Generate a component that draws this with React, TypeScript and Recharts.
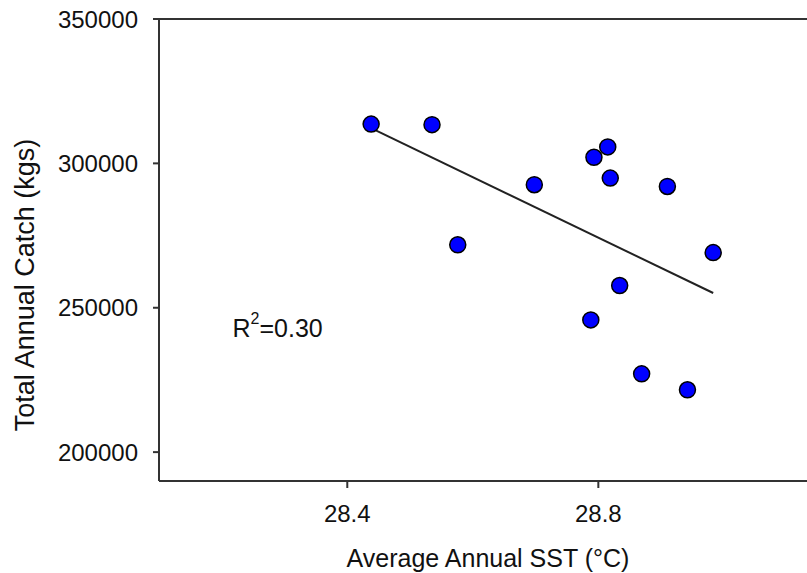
import React from "react";
import { ScatterChart, Scatter, XAxis, YAxis, ReferenceLine, ReferenceDot, Label } from "recharts";

// average annual SST (°C) vs total annual catch (kgs)
const sst = [28.438, 28.535, 28.576, 28.698, 28.793, 28.815, 28.819, 28.91, 28.983, 28.834, 28.788, 28.869, 28.942];
const catchKgs = [313600, 313400, 271800, 292600, 302100, 305700, 294900, 292000, 269100, 257700, 245800, 227100, 221600];

// fitted line end points
const fitSst = [28.438, 28.983];
const fitCatch = [312200, 255100];

const xTicks = [28.4, 28.8];
const yTicks = [200000, 250000, 300000, 350000];
const rSquared = "0.30";

const points = sst.map((x, i) => ({ x, y: catchKgs[i] }));
const fit = fitSst.map((x, i) => ({ x, y: fitCatch[i] }));

const FONT = '"Liberation Sans", Arial, sans-serif';
const INK = "#111";
const AXIS = "#333";

const Dot = (p: any) => <circle cx={p.cx} cy={p.cy} r={8} fill="#0000ff" stroke="#000" strokeWidth={1.5} />;
const NoDot = () => <g />;

export default function App() {
  return (
    <div style={{ position: "fixed", left: 0, top: 0, width: 807, height: 573, overflow: "hidden", background: "#fff" }}>
      <ScatterChart width={830} height={573} margin={{ top: 19, right: 12, bottom: 32, left: 59 }}>
        <XAxis
          type="number"
          dataKey="x"
          domain={[28.1, 29.15]}
          ticks={xTicks}
          tickFormatter={(v: number) => v.toFixed(1)}
          height={60}
          tickSize={7}
          tickMargin={17}
          axisLine={{ stroke: AXIS, strokeWidth: 2 }}
          tickLine={{ stroke: AXIS, strokeWidth: 2 }}
          tick={{ fill: INK, fontSize: 24, fontFamily: FONT }}
        >
          <Label
            content={() => (
              <text x={488} y={567} textAnchor="middle" fill={INK} fontSize={25} fontFamily={FONT}>
                Average Annual SST (°C)
              </text>
            )}
          />
        </XAxis>
        <YAxis
          type="number"
          dataKey="y"
          domain={[190000, 350000]}
          ticks={yTicks}
          width={100}
          tickSize={6}
          tickMargin={15}
          axisLine={{ stroke: AXIS, strokeWidth: 2 }}
          tickLine={{ stroke: AXIS, strokeWidth: 2 }}
          tick={{ fill: INK, fontSize: 24, fontFamily: FONT }}
        >
          <Label
            content={() => (
              <text
                x={25}
                y={285}
                transform="rotate(-90 25 285)"
                textAnchor="middle"
                dominantBaseline="central"
                fill={INK}
                fontSize={27}
                fontFamily={FONT}
              >
                Total Annual Catch (kgs)
              </text>
            )}
          />
        </YAxis>
        <ReferenceLine y={350000} stroke={AXIS} strokeWidth={2} ifOverflow="visible" />
        <Scatter data={fit} line={{ stroke: "#222", strokeWidth: 2 }} shape={NoDot} isAnimationActive={false} legendType="none" />
        <Scatter data={points} shape={Dot} isAnimationActive={false} />
        <ReferenceDot
          x={28.233}
          y={239600}
          shape={NoDot}
          ifOverflow="visible"
          label={(p: any) => (
            <text x={p.viewBox.x} y={p.viewBox.y} dominantBaseline="central" fill={INK} fontSize={25} fontFamily={FONT}>
              R
              <tspan fontSize={16} dy={-10}>2</tspan>
              <tspan dy={10}>={rSquared}</tspan>
            </text>
          )}
        />
      </ScatterChart>
    </div>
  );
}
